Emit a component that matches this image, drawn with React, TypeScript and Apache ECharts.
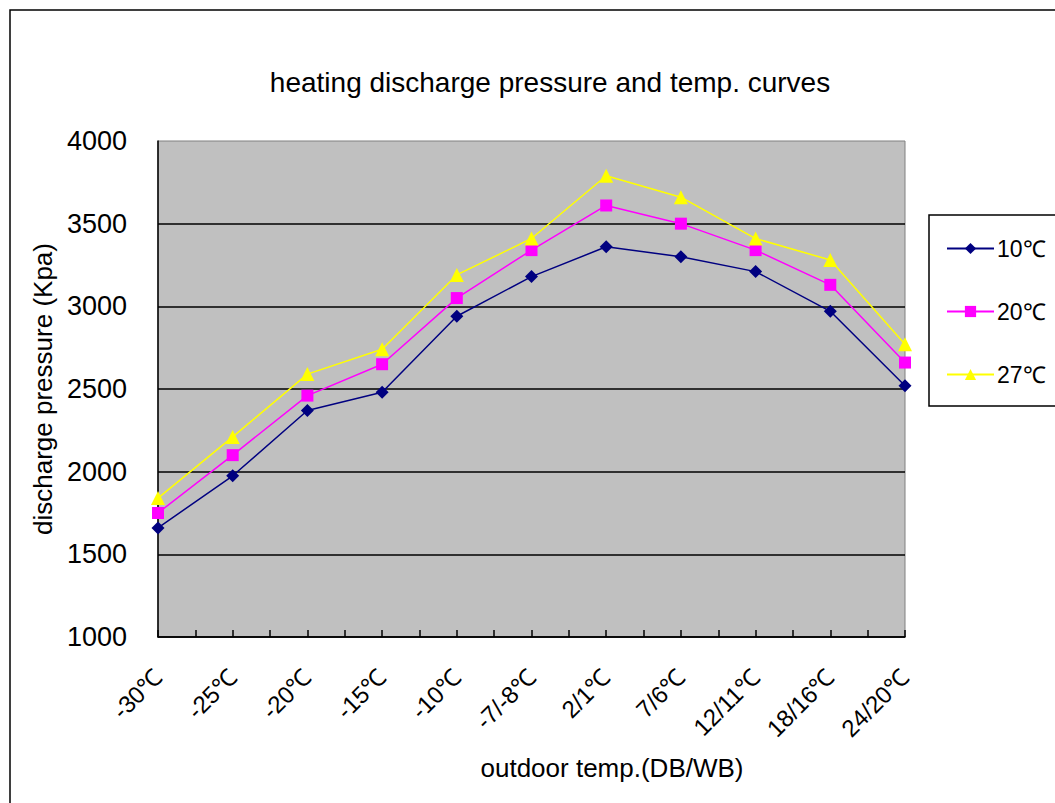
import React, { useEffect, useRef } from "react";
import * as echarts from "echarts";

const categories = ["-30℃", "-25℃", "-20℃", "-15℃", "-10℃", "-7/-8℃", "2/1℃", "7/6℃", "12/11℃", "18/16℃", "24/20℃"];
const seriesNames = ["10℃", "20℃", "27℃"];
const values10 = [1660, 1975, 2370, 2480, 2940, 3180, 3360, 3300, 3210, 2970, 2520];
const values20 = [1750, 2100, 2460, 2650, 3050, 3340, 3610, 3500, 3340, 3130, 2660];
const values27 = [1840, 2210, 2590, 2740, 3190, 3410, 3790, 3660, 3410, 3280, 2770];
const yTicks = [1000, 1500, 2000, 2500, 3000, 3500, 4000];

const FONT = "'Liberation Sans', Arial, sans-serif";

export default function App() {
  const ref = useRef<HTMLDivElement>(null);
  useEffect(() => {
    if (!ref.current) return;
    const chart = echarts.init(ref.current, undefined, { renderer: "svg" });
    const toPairs = (arr: number[]) => arr.map((v, i) => [i, v]);
    const mk = (name: string, data: number[], color: string, symbol: string, size: number) => ({
      name,
      type: "line",
      data: toPairs(data),
      symbol,
      symbolSize: size,
      itemStyle: { color },
      lineStyle: { color, width: 1.5 },
      z: 3,
    });
    chart.setOption({
      animation: false,
      backgroundColor: "#ffffff",
      textStyle: { fontFamily: FONT },
      graphic: [
        {
          type: "rect",
          shape: { x: 10, y: 10, width: 1100, height: 850 },
          style: { fill: "none", stroke: "#000", lineWidth: 1.5 },
          silent: true,
          z: -1,
        },
        {
          type: "text",
          x: 550,
          y: 82,
          style: {
            text: "heating discharge pressure and temp. curves",
            fill: "#000",
            font: `28px ${FONT}`,
            textAlign: "center",
            textVerticalAlign: "middle",
          },
        },
        {
          type: "text",
          x: 612,
          y: 768,
          style: {
            text: "outdoor temp.(DB/WB)",
            fill: "#000",
            font: `26px ${FONT}`,
            textAlign: "center",
            textVerticalAlign: "middle",
          },
        },
      ],
      legend: {
        orient: "vertical",
        left: 929,
        top: 215,
        data: seriesNames,
        backgroundColor: "#fff",
        borderColor: "#000",
        borderWidth: 1.5,
        borderRadius: 0,
        padding: [22, 60, 20, 17],
        itemGap: 40,
        itemWidth: 47,
        itemHeight: 14,
        textStyle: { fontSize: 23, color: "#000", fontFamily: FONT, padding: [0, 0, 0, -2] },
      },
      grid: {
        left: 158,
        top: 141,
        right: 150,
        bottom: 166,
        show: true,
        backgroundColor: "#c0c0c0",
        borderColor: "#808080",
        borderWidth: 1,
      },
      xAxis: {
        type: "value",
        min: 0,
        max: categories.length - 1,
        interval: 0.5,
        axisLine: { show: true, lineStyle: { color: "#000", width: 1.5 } },
        axisTick: { show: true, inside: true, length: 7, lineStyle: { color: "#000", width: 1.5 } },
        splitLine: { show: false },
        axisLabel: {
          rotate: 45,
          margin: 36,
          fontSize: 24,
          color: "#000",
          fontFamily: FONT,
          showMinLabel: true,
          showMaxLabel: true,
          formatter: (v: number) => (Number.isInteger(v) ? categories[v] : ""),
        },
      },
      yAxis: {
        type: "value",
        min: yTicks[0],
        max: yTicks[yTicks.length - 1],
        interval: 500,
        name: "discharge pressure (Kpa)",
        nameLocation: "middle",
        nameGap: 100,
        nameTextStyle: { fontSize: 26, color: "#000", fontFamily: FONT },
        axisLine: { show: true, lineStyle: { color: "#000", width: 1.5 } },
        axisTick: { show: false },
        splitLine: { show: true, showMaxLine: false, lineStyle: { color: "#000", width: 1.5 } },
        axisLabel: {
          margin: 31,
          fontSize: 27,
          color: "#000",
          fontFamily: FONT,
          formatter: (v: number) => String(v),
        },
      },
      series: [
        mk(seriesNames[0], values10, "#000080", "diamond", 13),
        mk(seriesNames[1], values20, "#ff00ff", "rect", 12),
        mk(seriesNames[2], values27, "#ffff00", "triangle", 14),
      ],
    });
    return () => chart.dispose();
  }, []);
  return (
    <div
      ref={ref}
      style={{ position: "absolute", left: 0, top: 0, width: 1055, height: 803 }}
    />
  );
}
